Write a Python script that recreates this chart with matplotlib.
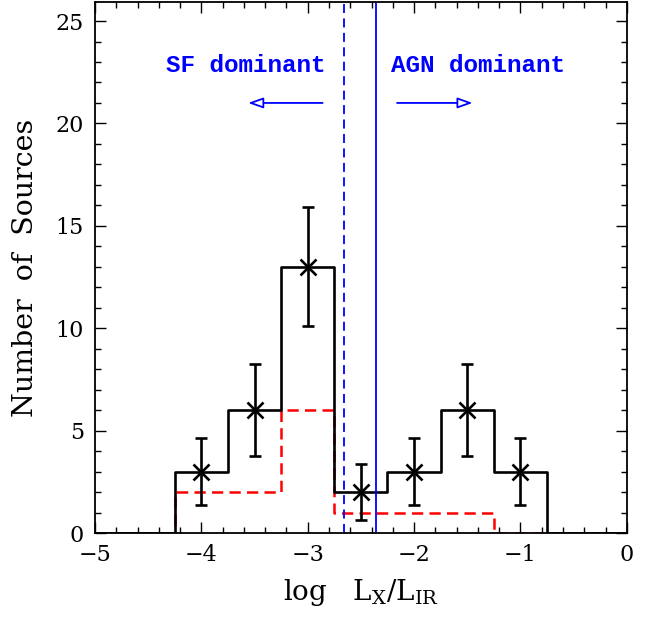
import numpy as np
import matplotlib
matplotlib.use("Agg")
import matplotlib.pyplot as plt
from matplotlib.ticker import MultipleLocator

# histogram of log Lx/LIR, bins of 0.5 dex (padded with empty bins to the axis edges)
centers = [-5.0, -4.5, -4.0, -3.5, -3.0, -2.5, -2.0, -1.5, -1.0, -0.5, 0.0]
n_all = [0, 0, 3, 6, 13, 2, 3, 6, 3, 0, 0]
n_sub = [0, 0, 2, 2, 6, 1, 1, 1, 0, 0, 0]

# points with error bars
pt_x = [-4.0, -3.5, -3.0, -2.5, -2.0, -1.5, -1.0]
pt_y = [3, 6, 13, 2, 3, 6, 3]
pt_err = [1.65, 2.25, 2.9, 1.37, 1.65, 2.25, 1.65]

# dividing lines
x_dash = -2.66
x_solid = -2.36

plt.rcParams["font.family"] = "DejaVu Serif"

fig = plt.figure(figsize=(6.57, 6.18), dpi=100)
ax = fig.add_axes([0.1446, 0.1375, 0.8094, 0.8593])

ax.step(centers, n_sub, where="mid", color="red", lw=1.8, ls=(0, (4.5, 2.5)))
ax.step(centers, n_all, where="mid", color="black", lw=1.9)
ax.errorbar(pt_x, pt_y, yerr=pt_err, fmt="x", color="black", ms=11, mew=1.9,
            elinewidth=1.9, capsize=4, capthick=1.9)

ax.axvline(x_dash, color="blue", lw=1.3, ls=(0, (5, 3)))
ax.axvline(x_solid, color="blue", lw=1.3)

ax.text(-3.58, 22.85, "SF dominant", color="blue", fontsize=17.5,
        family="Liberation Mono", weight="bold", ha="center", va="center")
ax.text(-1.40, 22.85, "AGN dominant", color="blue", fontsize=17.5,
        family="Liberation Mono", weight="bold", ha="center", va="center")
arrow = dict(arrowstyle="-|>,head_length=0.9,head_width=0.32", color="blue",
             fc="white", lw=1.3, shrinkA=0, shrinkB=0)
ax.annotate("", xy=(-3.56, 21.0), xytext=(-2.86, 21.0), arrowprops=arrow)
ax.annotate("", xy=(-1.45, 21.0), xytext=(-2.16, 21.0), arrowprops=arrow)

ax.set_xlim(-5, 0)
ax.set_ylim(0, 25.93)
ax.xaxis.set_major_locator(MultipleLocator(1))
ax.xaxis.set_minor_locator(MultipleLocator(0.2))
ax.yaxis.set_major_locator(MultipleLocator(5))
ax.yaxis.set_minor_locator(MultipleLocator(1))
ax.tick_params(which="both", direction="in", top=True, right=True, width=1)
ax.tick_params(which="major", length=8, labelsize=16, pad=8)
ax.tick_params(which="minor", length=4)
for s in ax.spines.values():
    s.set_linewidth(1.3)

ax.set_xlabel(r"log   L$_\mathregular{X}$/L$_\mathregular{IR}$", fontsize=20, labelpad=8)
ax.set_ylabel("Number  of  Sources", fontsize=20.5, labelpad=12)

fig.savefig("out.png", dpi=100)
